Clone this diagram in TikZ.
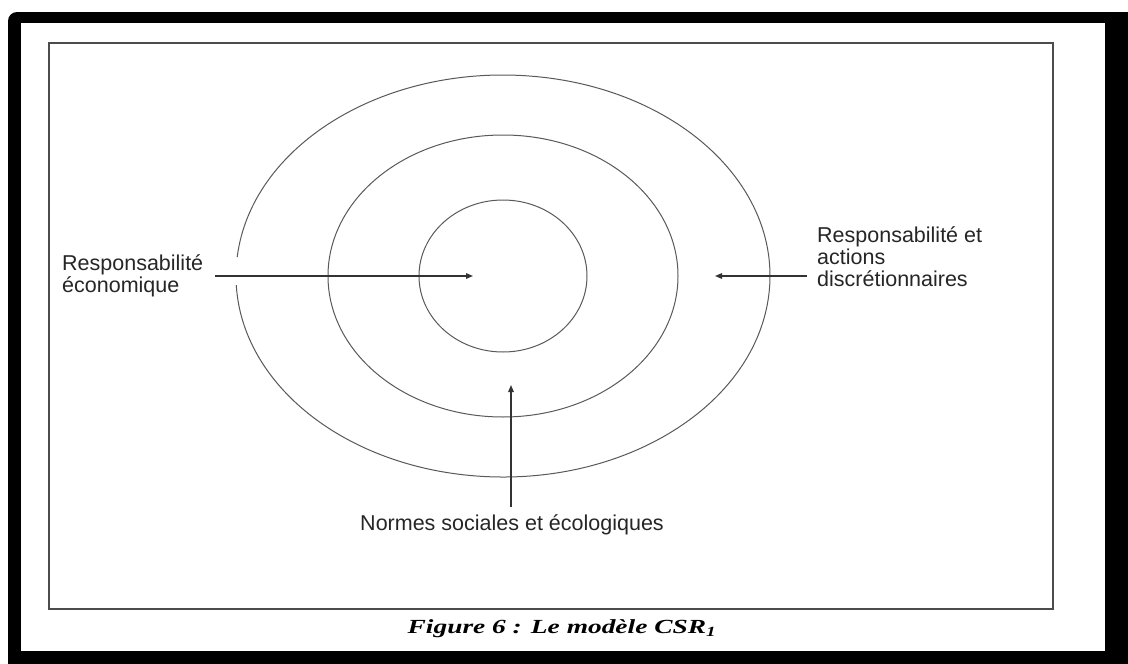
\documentclass[tikz,border=0pt]{standalone}
\usepackage{fontspec}
\setmainfont{Liberation Sans}
\newfontfamily\capfont{Liberation Serif}
\usetikzlibrary{arrows.meta}
\begin{document}
\begin{tikzpicture}[x=1pt,y=-1pt,
  ring/.style={draw=black!65,line width=1pt},
  pointer/.style={draw=black!80,line width=1.4pt,-{Triangle[length=7pt,width=5.5pt]}},
  lbl/.style={font=\fontsize{21.5}{22}\selectfont,text=black!85,align=left,inner sep=0pt},
  figcap/.style={font=\capfont\bfseries\itshape\fontsize{20}{22}\selectfont,inner sep=0pt}]
\useasboundingbox (0,0) rectangle (1128,664);
% framed page with heavy border
\fill[white] (0,0) rectangle (1128,664);
\fill[black,rounded corners=9pt] (8,12) rectangle (1150,690);
\fill[white] (21,23) rectangle (1105,651);
\draw[black!70,line width=1.6pt] (49,43) rectangle (1053,609);
% concentric rings
\coordinate (c) at (503,276);
\draw[ring] (237.2,257.1) arc[start angle=185.4,end angle=537.4,x radius=267,y radius=201];
\draw[ring] (c) ellipse[x radius=175,y radius=141];
\draw[ring] (c) ellipse[x radius=84,y radius=76];
% labels
\node[lbl,anchor=west] (econ) at (62,276) {Responsabilité\\économique};
\node[lbl,anchor=north west] (disc) at (817,226) {Responsabilité et\\actions\\discrétionnaires};
\node[lbl,anchor=north] (norm) at (512,514) {Normes sociales et écologiques};
\node[figcap] (title) at (562,629) {\scalebox{1.37}[1]{Figure 6 : Le modèle CSR\textsubscript{1}}};
% pointers toward the centre
\coordinate (tipL) at (473,276);
\coordinate (tipR) at (715,276);
\coordinate (tipB) at (511,385);
\coordinate (startL) at (215,276);
\coordinate (startR) at (807,276);
\draw[pointer] (startL) -- (tipL);
\draw[pointer] (startR) -- (tipR);
\draw[pointer] (norm.north -| tipB) ++(0,-7) -- (tipB);
\end{tikzpicture}
\end{document}
